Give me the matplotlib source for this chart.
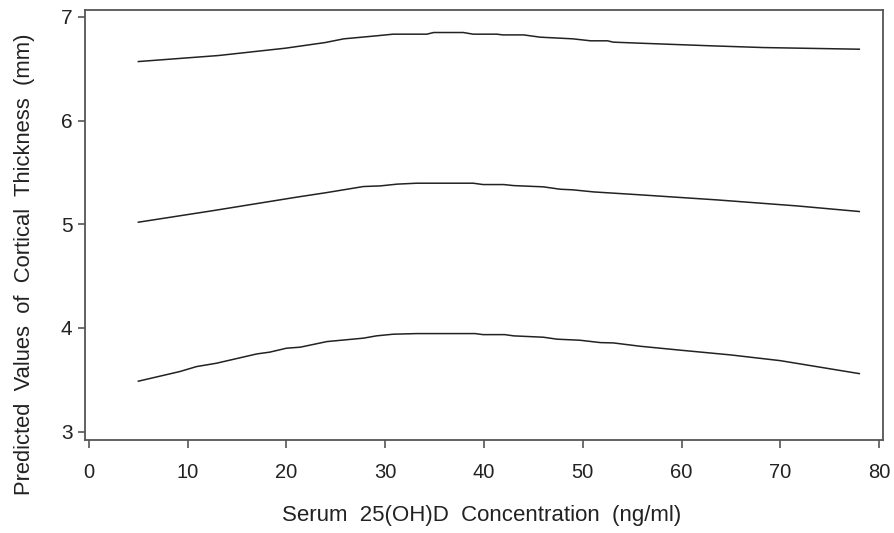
import matplotlib
matplotlib.use("Agg")
import matplotlib.pyplot as plt

# Serum 25(OH)D concentration (ng/ml) and predicted cortical thickness (mm)
upper_x = [5.0, 13.1, 19.9, 23.9, 25.8, 29.1, 30.8, 34.2, 34.9, 37.9, 38.9, 41.3, 41.9, 44.0,
           45.7, 49.0, 50.8, 52.5, 53.1, 55.8, 63.2, 68.3, 78.0]
upper_y = [6.569, 6.627, 6.698, 6.752, 6.788, 6.817, 6.833, 6.833, 6.849, 6.849, 6.833, 6.833,
           6.826, 6.826, 6.804, 6.788, 6.769, 6.769, 6.756, 6.746, 6.720, 6.704, 6.688]

middle_x = [5.0, 12.6, 21.0, 24.1, 27.8, 29.5, 31.2, 33.2, 38.9, 39.9, 42.0, 43.0, 46.0, 47.7,
            49.0, 51.1, 55.8, 63.6, 71.7, 78.0]
middle_y = [5.020, 5.132, 5.261, 5.306, 5.364, 5.370, 5.387, 5.396, 5.396, 5.383, 5.383, 5.373,
            5.361, 5.338, 5.332, 5.312, 5.284, 5.235, 5.177, 5.123]

lower_x = [5.0, 9.2, 10.9, 12.9, 17.0, 18.3, 20.0, 21.4, 24.1, 27.8, 29.1, 30.8, 33.2, 39.1,
           39.9, 42.1, 43.0, 46.0, 47.4, 49.7, 51.8, 53.1, 55.8, 60.0, 65.0, 70.0, 78.0]
lower_y = [3.487, 3.580, 3.628, 3.660, 3.750, 3.767, 3.805, 3.815, 3.869, 3.902, 3.924, 3.940,
           3.946, 3.946, 3.936, 3.936, 3.924, 3.911, 3.892, 3.882, 3.859, 3.856, 3.824, 3.785,
           3.740, 3.685, 3.560]

x_ticks = [0, 10, 20, 30, 40, 50, 60, 70, 80]
y_ticks = [3, 4, 5, 6, 7]

plt.rcParams['font.family'] = ['Liberation Sans', 'DejaVu Sans']

fig = plt.figure(figsize=(8.95, 5.33), dpi=100)
ax = fig.add_axes([0.095, 0.1745, 0.8916, 0.8075])

for xs, ys in [(upper_x, upper_y), (middle_x, middle_y), (lower_x, lower_y)]:
    ax.plot(xs, ys, color='#222222', linewidth=1.1)

ax.set_xlim(-0.4, 80.4)
ax.set_ylim(2.92, 7.07)
ax.set_xticks(x_ticks)
ax.set_yticks(y_ticks)
ax.set_xticklabels([str(v) for v in x_ticks])
ax.set_yticklabels([str(v) for v in y_ticks])

for sp in ax.spines.values():
    sp.set_color('#555555')
    sp.set_linewidth(1.3)

ax.tick_params(axis='x', direction='out', length=6, width=1.2, color='#555555',
               labelsize=14.5, labelcolor='#222222', pad=10.5)
ax.tick_params(axis='y', direction='out', length=5, width=1.2, color='#555555',
               labelsize=15, labelcolor='#222222', pad=4)

fig.text(482 / 895, 1 - 515 / 533, 'Serum  25(OH)D  Concentration  (ng/ml)',
         fontsize=16, color='#222222', ha='center', va='center')
fig.text(25 / 895, 1 - 264 / 533, 'Predicted  Values  of  Cortical  Thickness  (mm)',
         fontsize=15.8, color='#222222', ha='center', va='center', rotation=90)

fig.savefig('out.png', dpi=100)
